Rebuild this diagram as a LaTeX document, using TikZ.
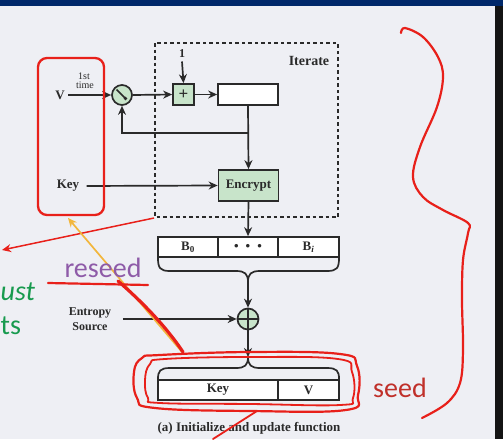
\documentclass[tikz,border=0pt]{standalone}
\usepackage{fontspec}
\setmainfont{Liberation Serif}
\newfontfamily\anno{Carlito}
\usetikzlibrary{arrows.meta,calc}
\definecolor{bg}{HTML}{EEEFF4}
\definecolor{navy}{HTML}{00286A}
\definecolor{gfill}{HTML}{C8E4CA}
\definecolor{rd}{HTML}{E8201A}
\definecolor{org}{HTML}{F2B63C}
\definecolor{purp}{HTML}{8E5BA8}
\definecolor{grn}{HTML}{179A4E}
\definecolor{sd}{HTML}{C0302A}
\definecolor{ink}{HTML}{2A2A2A}
\begin{document}
\begin{tikzpicture}[x=1pt,y=-1pt,
  font=\bfseries\fontsize{13}{15}\selectfont, text=ink,
  arr/.style={-{Stealth[length=9pt,width=8pt]}, line width=1.7pt, draw=ink},
  ln/.style={line width=1.7pt, draw=ink},
  gbox/.style={draw=ink, line width=1.7pt, fill=gfill, inner sep=0pt},
  cell/.style={draw=ink, line width=1.7pt, fill=white, inner sep=0pt, minimum width=60pt, minimum height=20pt},
  small/.style={font=\mdseries\fontsize{10}{10}\selectfont},
  annofont/.style={font=\anno\mdseries\fontsize{28}{30}\selectfont},
  hand/.style={draw=rd, line cap=round, line join=round},
]
\useasboundingbox (0,0) rectangle (503,439);
\fill[bg] (0,0) rectangle (503,439);
\fill[navy] (0,0) rectangle (503,6);
\fill[black!92] (495,6) rectangle (503,439);
\begin{scope}
\clip (0,6) rectangle (495,439);

% dashed iterate box
\draw[ink, line width=2.4pt, dash pattern=on 3.5pt off 3pt] (155,43) rectangle (338,217);
\node (iter) at (309,61) {\fontsize{14}{14}\selectfont Iterate};

% top row
\node[gbox, minimum width=21pt, minimum height=21pt] (plus) at (183.5,94.5) {\fontsize{17}{17}\selectfont +};
\node[cell, minimum width=60pt, minimum height=21pt] (reg) at (248,94.5) {};
\node[gbox, minimum width=60pt, minimum height=31pt] (enc) at (248.5,185.5) {Encrypt};
\node[gbox, circle, minimum size=20pt] (sw) at (122,95) {};
\draw[ln] (116.5,89.5) -- (125.5,98.5);
\fill[ink] (125.5,98.5) circle (1.8pt);

\node (one) at (182,54) {\fontsize{12}{12}\selectfont 1};
\node (lV) at (60,95) {V};
\node (lKey) at (68,186) {Key};
\node[small] (first) at (84,76.5) {1st};
\node[small] (ftime) at (85,85.5) {time};

\draw[arr] (one.south) -- (plus.north);
\draw[arr] (lV.east) -- (sw.west);
\draw[arr] (sw.east) -- (plus.west);
\draw[arr] (plus.east) -- (reg.west);
\draw[arr] (reg.south) -- (enc.north);
\coordinate (br) at (248,133);
\draw[arr] (br) -| (sw.south);
\draw[arr, shorten <=4pt] (lKey.east) -- (enc.west);

% B row
\node[cell] (b0) at (188,247) {B\textsubscript{0}};
\node[cell] (bd) at (248,247) {\textbullet\hspace{7pt}\textbullet\hspace{7pt}\textbullet};
\node[cell, minimum width=61pt] (bi) at (308.5,247) {B\textsubscript{\textit{i}}};
\draw[arr] (enc.south) -- (bd.north);
\coordinate (btip) at (248,282);
\draw[ln] (158,258) .. controls (158,268) and (160,271) .. (170,271) -- (236,271)
  .. controls (245,271) and (248,274) .. (btip)
  .. controls (248,274) and (251,271) .. (260,271) -- (327,271)
  .. controls (337,271) and (339,268) .. (339,258);

% xor and entropy
\node[gbox, circle, minimum size=21pt] (xor) at (248,319) {};
\draw[ln] (xor.north) -- (xor.south);
\draw[ln] (xor.west) -- (xor.east);
\node[align=center, font=\bfseries\fontsize{12}{15}\selectfont] (ent) at (90,319) {Entropy\\Source};
\draw[arr] (btip) -- (xor.north);
\draw[arr, shorten <=8pt] (ent.east) -- (xor.west);

% Key / V
\node[cell, minimum width=120pt] (key) at (218,390) {Key};
\node[cell, minimum width=61pt] (v) at (308.5,390) {V};
\coordinate (ktip) at (248,357);
\draw[arr] (xor.south) -- (ktip);
\draw[ln] (158,379) .. controls (158,371) and (160,368) .. (170,368) -- (236,368)
  .. controls (245,368) and (248,365) .. (ktip)
  .. controls (248,365) and (251,368) .. (260,368) -- (327,368)
  .. controls (337,368) and (339,371) .. (339,379);

\node[anchor=base] (cap) at (249,431) {(a) Initialize and update function};

% ---- annotations ----
\draw[hand, line width=2.3pt, rounded corners=9pt] (38,58) rectangle (104,215);
\draw[rd, line width=1.5pt, -{Stealth[length=9pt,width=8pt]}] (154,218) -- (2,250);
\draw[org, line width=1.7pt, -{Stealth[length=9pt,width=8pt]}] (182,352) -- (68,218);
\draw[hand, line width=2.2pt] (48,283) -- (148,285);
\draw[hand, line width=3.2pt] (118,281) .. controls (140,300) and (165,325) .. (183,352);

\node[annofont, anchor=base, text=purp] (reseed) at (103,277) {reseed};
\node[annofont, anchor=base, text=sd] (seed) at (400,397) {seed};
\node[annofont, anchor=base west, inner sep=0pt, text=grn] (ust) at (0.5,300) {\itshape ust};
\node[annofont, anchor=base west, inner sep=0pt, text=grn] (ts) at (0.5,334) {ts};

\draw[hand, line width=2.2pt] plot[smooth cycle, tension=0.7] coordinates
  {(160,355) (250,352) (340,354) (357,366) (358,395) (346,410) (250,411) (155,408) (137,398) (134,372) (142,358)};
\draw[hand, line width=1.8pt] plot[smooth cycle, tension=0.7] coordinates
  {(165,359) (250,357) (338,359) (352,372) (353,398) (340,405) (250,404) (160,403) (148,398) (145,380) (150,364)};
\draw[hand, line width=1.8pt] (257,411) -- (213,439);

\draw[hand, line width=2.2pt] plot[smooth, tension=0.6] coordinates
  {(401,33) (405,28) (423,37) (438,57) (443,77) (437,107) (420,147) (413,177) (423,197) (443,210) (468,223) (468,233) (463,260) (462,300) (463,350) (460,383) (447,403) (422,418)};
\end{scope}
\end{tikzpicture}
\end{document}
